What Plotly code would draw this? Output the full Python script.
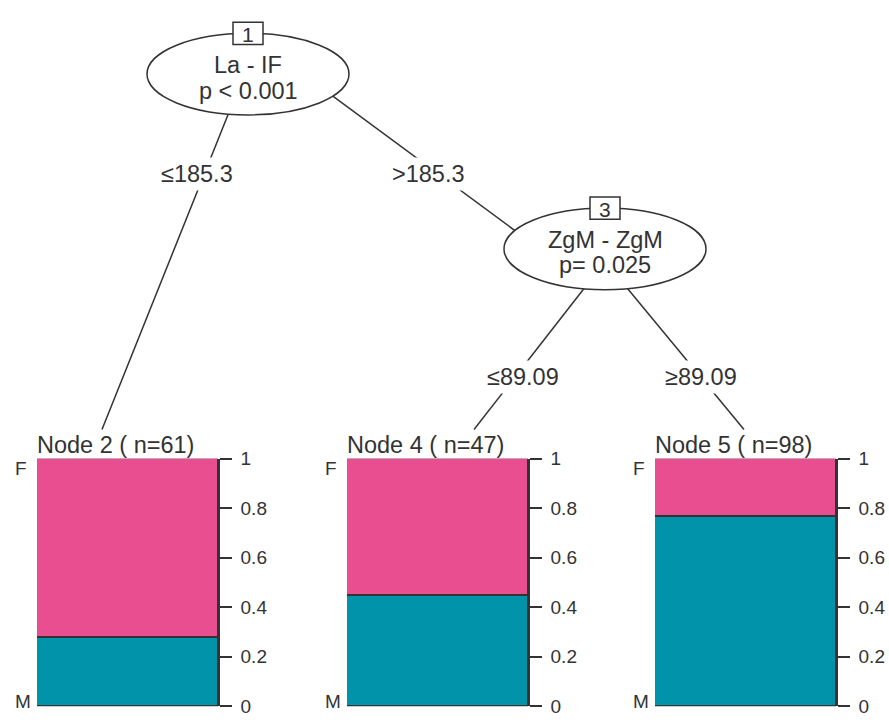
import plotly.graph_objects as go

# ---- tree content -------------------------------------------------------
inner_ids = [1, 3]
inner_vars = ["La - IF", "ZgM - ZgM"]
inner_pvals = ["p < 0.001", "p= 0.025"]

edge_labels = ["≤185.3", ">185.3", "≤89.09", "≥89.09"]

term_ids = [2, 4, 5]
term_n = [61, 47, 98]
term_m = [17, 21, 75]          # class "M" counts per terminal node
classes = ["F", "M"]

tick_vals = [0, 0.2, 0.4, 0.6, 0.8, 1]
tick_text = ["0", "0.2", "0.4", "0.6", "0.8", "1"]

# ---- styling / layout (pixels) ------------------------------------------
W, H = 889, 726
FONT = "Liberation Sans, Arial, Helvetica, sans-serif"
INK = "#333333"
TXT = 23.5
class_colors = {"F": "#E94F90", "M": "#0093A9"}

inner_pos = [(248, 66), (605, 246)]
ELL_RX, ELL_RY = 101, 42
ID_W, ID_H = 30, 23

panel_left = [37, 347, 655]
PANEL_W = 181
PANEL_TOP, PANEL_BOT = 462, 717

edge_segments = [((233, 95), (102, 432)),
                 ((320, 79), (520, 231)),
                 ((593, 275), (474, 432)),
                 ((618, 275), (744, 432))]
edge_label_pos = [(197, 168), (428, 168), (523, 377), (701, 377)]


def X(px):
    return px / W


def Y(py):
    return 1 - py / H


fig = go.Figure()
shapes = []
annotations = []

# ---- terminal node bar panels -------------------------------------------
for k, (nid, n, m) in enumerate(zip(term_ids, term_n, term_m), start=1):
    share = {"M": m / n, "F": (n - m) / n}
    for cls in ["M", "F"]:
        fig.add_trace(go.Bar(
            x=[0], y=[share[cls]], name=cls, showlegend=False,
            marker=dict(color=class_colors[cls], line=dict(color=INK, width=1.5)),
            xaxis=f"x{k}", yaxis=f"y{k}", hoverinfo="skip",
        ))
    left = panel_left[k - 1]
    sfx = "" if k == 1 else str(k)
    fig.update_layout(**{
        f"xaxis{sfx}": dict(domain=[X(left), X(left + PANEL_W)], range=[-0.5, 0.5],
                            visible=False, anchor=f"y{k}", fixedrange=True),
        f"yaxis{sfx}": dict(domain=[Y(PANEL_BOT), Y(PANEL_TOP)], range=[0, 1],
                            side="right", anchor=f"x{k}", tickvals=tick_vals,
                            ticktext=tick_text, ticks="outside", ticklen=12,
                            tickwidth=1.5, tickcolor=INK, showline=True,
                            linecolor=INK, linewidth=1.5, showgrid=False,
                            zeroline=False, ticklabelstandoff=5,
                            ticklabeloverflow="allow",
                            tickfont=dict(family=FONT, size=19, color=INK),
                            fixedrange=True),
    })
    # node title
    annotations.append(dict(
        text=f"Node {nid} ( n={n})", xref="paper", yref="paper",
        x=X(left - 2), y=Y(463), xanchor="left", yanchor="bottom", showarrow=False,
        font=dict(family=FONT, size=TXT, color=INK)))
    # class labels at top (F) and bottom (M)
    for cls, py in zip(classes, [472, 712]):
        annotations.append(dict(
            text=cls, xref="paper", yref="paper", x=X(left - 24), y=Y(py),
            xanchor="left", yanchor="middle", showarrow=False,
            font=dict(family=FONT, size=19, color=INK)))

# ---- edges ----------------------------------------------------------------
for (p0, p1) in edge_segments:
    shapes.append(dict(type="line", xref="paper", yref="paper",
                       x0=X(p0[0]), y0=Y(p0[1]), x1=X(p1[0]), y1=Y(p1[1]),
                       line=dict(color=INK, width=1.5)))

# ---- inner nodes -------------------------------------------------------------
for nid, var, pv, (cx, cy) in zip(inner_ids, inner_vars, inner_pvals, inner_pos):
    shapes.append(dict(type="circle", xref="paper", yref="paper",
                       x0=X(cx - ELL_RX), x1=X(cx + ELL_RX),
                       y0=Y(cy + ELL_RY), y1=Y(cy - ELL_RY),
                       fillcolor="white", line=dict(color=INK, width=1.5)))
    top = cy - ELL_RY
    shapes.append(dict(type="rect", xref="paper", yref="paper",
                       x0=X(cx - ID_W / 2), x1=X(cx + ID_W / 2),
                       y0=Y(top + ID_H / 2), y1=Y(top - ID_H / 2),
                       fillcolor="white", line=dict(color=INK, width=1.5)))
    annotations.append(dict(text=str(nid), xref="paper", yref="paper",
                            x=X(cx), y=Y(top + 1), xanchor="center", yanchor="middle",
                            showarrow=False, font=dict(family=FONT, size=21, color=INK)))
    annotations.append(dict(text=var, xref="paper", yref="paper",
                            x=X(cx), y=Y(cy - 9), xanchor="center", yanchor="middle",
                            showarrow=False, font=dict(family=FONT, size=TXT, color=INK)))
    annotations.append(dict(text=pv, xref="paper", yref="paper",
                            x=X(cx), y=Y(cy + 17), xanchor="center", yanchor="middle",
                            showarrow=False, font=dict(family=FONT, size=TXT, color=INK)))

# ---- edge labels -----------------------------------------------------------
for lab, (lx, ly) in zip(edge_labels, edge_label_pos):
    annotations.append(dict(text=lab, xref="paper", yref="paper",
                            x=X(lx), y=Y(ly + 1), xanchor="center", yanchor="middle",
                            showarrow=False, bgcolor="white", borderpad=3,
                            font=dict(family=FONT, size=TXT, color=INK)))

fig.update_layout(
    width=W, height=H, margin=dict(l=0, r=0, t=0, b=0),
    paper_bgcolor="white", plot_bgcolor="white",
    barmode="stack", bargap=0, showlegend=False,
    shapes=shapes, annotations=annotations,
)

fig.write_html("out.html")
